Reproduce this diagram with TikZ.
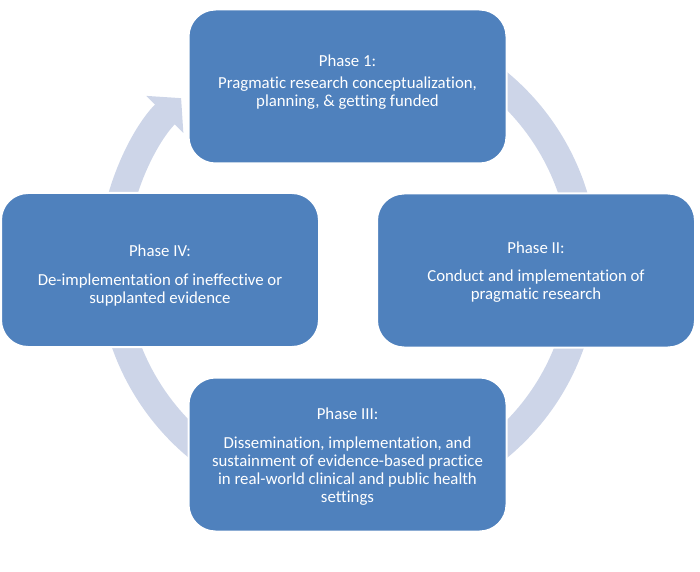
\documentclass[tikz,border=0pt]{standalone}
\usepackage{fontspec}
\setmainfont{Carlito}[Ligatures=NoCommon]
\usetikzlibrary{arrows.meta}
\definecolor{boxblue}{RGB}{79,129,189}
\definecolor{ringblue}{RGB}{205,213,232}
\tikzset{
  phasebox/.style={draw=white, line width=2pt, fill=boxblue, rounded corners=27pt,
    minimum width=318pt, minimum height=154pt, inner sep=0pt},
  phasetext/.style={text=white, align=center, inner sep=0pt, anchor=north,
    font=\fontsize{16.8}{18}\selectfont},
  ring/.style={draw=ringblue, line width=28pt, -{Triangle[width=51pt,length=23pt]}}
}
\begin{document}
\begin{tikzpicture}[x=1pt,y=1pt]
\useasboundingbox (0,0) rectangle (700,571);
\coordinate (c) at (348,306);
\draw[ring] (c) ++(80:236) arc[start angle=80, end angle=-225, radius=236];
\node[phasebox] (p1) at (347.5,484.5) {};
\node[phasebox] (p2) at (536,300.5) {};
\node[phasebox] (p3) at (347.5,116.5) {};
\node[phasebox] (p4) at (160,301) {};
\node[phasetext] (t1) at (347.5,516.8) {Phase 1:\\[4.7pt]Pragmatic research conceptualization,\\planning, \& getting funded};
\node[phasetext] (t2) at (536,329.8) {Phase II:\\[10.7pt]Conduct and implementation of\\pragmatic research};
\node[phasetext] (t3) at (347.5,163.5) {Phase III:\\[10.7pt]Dissemination, implementation, and\\sustainment of evidence-based practice\\in real-world clinical and public health\\settings};
\node[phasetext] (t4) at (160,326.5) {Phase IV:\\[10.7pt]De-implementation of ineffective or\\supplanted evidence};
\end{tikzpicture}
\end{document}
